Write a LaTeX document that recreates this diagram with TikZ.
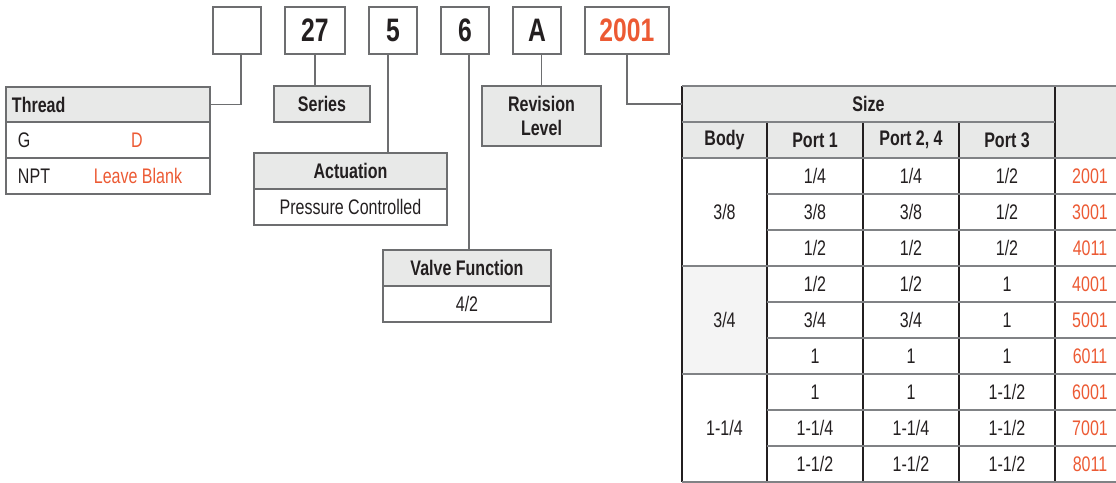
\documentclass[tikz,border=0pt]{standalone}
\usepackage{fontspec}
\setmainfont[FakeStretch=0.76]{Liberation Sans}
\usetikzlibrary{positioning}
\definecolor{ink}{RGB}{35,31,32}
\definecolor{rule}{RGB}{109,110,112}
\definecolor{hline}{RGB}{128,130,133}
\definecolor{headfill}{RGB}{232,233,232}
\definecolor{bodyfill}{RGB}{244,244,244}
\definecolor{codeorange}{RGB}{236,90,52}

\begin{document}
\begin{tikzpicture}[
		x=0.02cm, y=-0.02cm,
		every node/.style={font=\fontsize{12}{14}\selectfont, text=ink, inner sep=0pt, outer sep=0pt},
		code/.style={
			draw=rule,
			line width=0.8pt,
			minimum width=0.96cm,
			minimum height=0.94cm,
			font=\fontsize{18.5}{21}\selectfont\bfseries
		},
		head/.style={
			draw=rule,
			line width=0.8pt,
			fill=headfill,
			minimum height=0.72cm,
			font=\fontsize{12}{14}\selectfont\bfseries
		},
		cell/.style={draw=rule, line width=0.8pt, minimum height=0.72cm},
		link/.style={draw=rule, line width=0.8pt},
		grid/.style={draw=hline, line width=1.1pt},
		col/.style={draw=ink, line width=0.6pt},
		sel/.style={text=codeorange}
		]
		\useasboundingbox (0,0) rectangle (1116,483);
		
		% Ordering code boxes
		\node[code] (c-thread) at (237,30.5) {};
		\node[code, minimum width=1.2cm, right=0.48cm of c-thread] (c-series) {27};
		\node[code, right=0.48cm of c-series] (c-act) {5};
		\node[code, right=0.48cm of c-act] (c-func) {6};
		\node[code, right=0.48cm of c-func] (c-rev) {A};
		\node[code, minimum width=1.68cm, sel, right=0.48cm of c-rev] (c-size) {2001};
		
		% Thread
		\node[head, minimum width=4.08cm, minimum height=0.7cm, text width=3.84cm, align=left, anchor=north west] (thread) at (6,87) {Thread};
		\node[cell, minimum width=4.08cm, below=0pt of thread] (thread-g) {};
		\node[cell, minimum width=4.08cm, below=0pt of thread-g] (thread-npt) {};
		\node[anchor=west] (g) at ([xshift=0.24cm]thread-g.west) {G};
		\node[sel] (d) at (137,140) {D};
		\node[anchor=west] (npt) at ([xshift=0.24cm]thread-npt.west) {NPT};
		\node[sel] (leave) at (138,176) {Leave Blank};
		
		% Series, actuation, valve function, revision
		\node[head, minimum width=1.92cm] (series) at (322,104) {Series};
		\node[head, minimum width=3.86cm] (act) at (350.5,171) {Actuation};
		\node[cell, minimum width=3.86cm, below=0pt of act] (act-val) {Pressure Controlled};
		\node[head, minimum width=3.36cm] (func) at (467,268) {Valve Function};
		\node[cell, minimum width=3.36cm, below=0pt of func] (func-val) {4/2};
		\node[head, minimum width=2.38cm, minimum height=1.2cm, align=center] (rev) at (541.5,116) {Revision\\Level};
		
		% Size table
		\fill[headfill] (682,86) rectangle (1116,158);
		\fill[bodyfill] (682,266) rectangle (767,374);
		\node[minimum width=7.46cm, minimum height=0.72cm, font=\fontsize{12}{14}\selectfont\bfseries] (size) at (868.5,104) {Size};
		\foreach \x/\t [count=\i] in {724.5/Body, 815/Port 1, 911/{Port 2, 4}, 1007/Port 3}
			\node[font=\fontsize{12}{14}\selectfont\bfseries] (hd-\i) at (\x,140) {\t};
		\draw[col] (682,86) -- (682,482);
		\draw[col] (1055,86) -- (1055,482);
		\foreach \x in {767,863,959}
			\draw[col] (\x,122) -- (\x,482);
		\foreach \y in {86,158,266,374,482}
			\draw[grid] (682,\y) -- (1116,\y);
		\draw[grid] (682,122) -- (1055,122);
		\foreach \y in {194,230,302,338,410,446}
			\draw[grid] (767,\y) -- (1116,\y);
		\node (body-1) at (724.5,212) {3/8};
		\node (body-2) at (724.5,320) {3/4};
		\node (body-3) at (724.5,428) {1-1/4};
		\foreach \a/\b/\c/\n [count=\r from 0] in {
				{1/4}/{1/4}/{1/2}/2001, {3/8}/{3/8}/{1/2}/3001, {1/2}/{1/2}/{1/2}/4011,
				{1/2}/{1/2}/1/4001, {3/4}/{3/4}/1/5001, 1/1/1/6011,
				1/1/{1-1/2}/6001, {1-1/4}/{1-1/4}/{1-1/2}/7001, {1-1/2}/{1-1/2}/{1-1/2}/8011} {
			\node (p1-\r) at (815,{176+36*\r}) {\a};
			\node (p2-\r) at (911,{176+36*\r}) {\b};
			\node (p3-\r) at (1007,{176+36*\r}) {\c};
			\node[sel] (code-\r) at (1090,{176+36*\r}) {\n};
		}
		
		% Connectors
		\draw[link] ([xshift=0.08cm]c-thread.south) |- (thread.east);
		\draw[link] (c-series.south) -- (c-series.south |- series.north);
		\draw[link] ([xshift=-0.1cm]c-act.south) -- ([xshift=-0.1cm]c-act.south |- act.north);
		\draw[link] ([xshift=0.08cm]c-func.south) -- ([xshift=0.08cm]c-func.south |- func.north);
		\draw[link] (c-rev.south -| rev.north) -- (rev.north);
		\draw[link] (c-size.south) |- (size.west);
	\end{tikzpicture}
\end{document}
